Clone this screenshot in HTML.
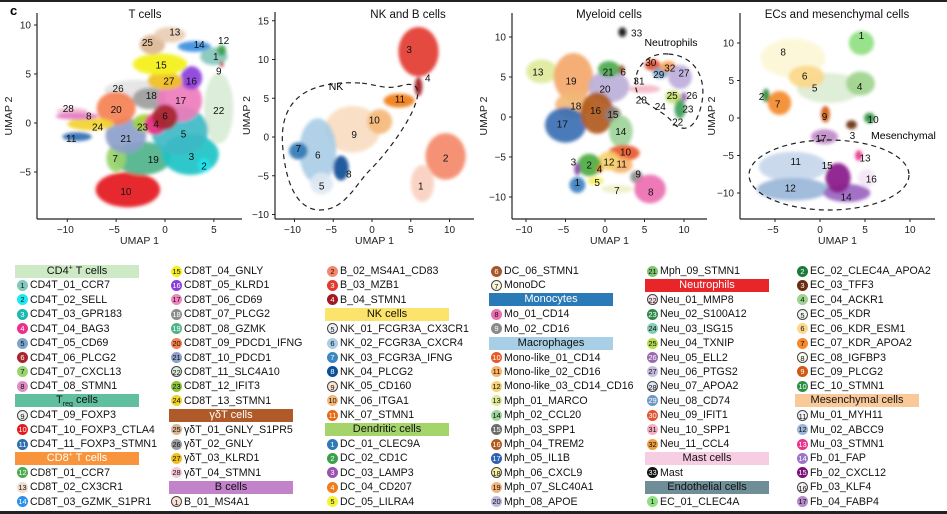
<!DOCTYPE html>
<html><head><meta charset="utf-8">
<style>
body{margin:0;background:#fff;}
#wrap{position:relative;width:947px;height:514px;overflow:hidden;background:#fff;font-family:"Liberation Sans",sans-serif;}
svg text{font-family:"Liberation Sans",sans-serif;}
.lg-row{position:absolute;height:14px;font-size:10.6px;line-height:14px;white-space:nowrap;color:#111;}
.lg-dot{position:absolute;left:0;top:1.5px;width:11px;height:11px;border-radius:50%;font-size:7.5px;line-height:11px;text-align:center;box-sizing:border-box;}
.lg-hdr{position:absolute;height:13px;font-size:11px;line-height:13px;text-align:center;overflow:hidden;}
.lg-hdr sup,.lg-hdr sub{font-size:7px;line-height:0;}
</style></head><body>
<div id="wrap">
<div style="position:absolute;left:0;top:0;width:947px;height:2px;background:#222"></div>
<div style="position:absolute;left:0;top:511px;width:947px;height:3px;background:#222"></div>
<svg id="plots" width="947" height="255" style="position:absolute;left:0;top:0">
<defs><filter id="bl" x="-50%" y="-50%" width="200%" height="200%"><feGaussianBlur stdDeviation="1.6"/></filter></defs>
<text x="10" y="15" font-size="13" font-weight="bold">c</text>
</svg>
<div id="legend"></div>
</div>
<script>
// ---------- panel data ----------
const panelTitles = ["T cells","NK and B cells","Myeloid cells","ECs and mesenchymal cells"];
const xTicks = [[-10,-5,0,5],[-10,-5,0,5,10],[-10,-5,0,5,10],[-5,0,5,10]];
const yTicks = [[-5,0,5,10],[-10,-5,0,5,10,15],[-10,-5,0,5,10],[-10,-5,0,5,10]];
// clusters: [id, x, y, spreadX, spreadY, color]
const clustersT = [
 [22,5.5,1.5,1.5,3.6,"#d9ecd6"],[26,-3,3.3,3.2,1.1,"#e4e4e4"],[28,-9.5,1.2,1.6,.35,"#f3b6d0"],
 [10,-3.8,-6.8,3.3,1.8,"#e31a1c"],[19,-2.3,-3.6,2.9,1.7,"#4fb38a"],[7,-5,-3.6,1,1.4,"#9ad46e"],
 [3,2.6,-3.2,2.9,2.1,"#1fc3c6"],[5,1.5,-0.8,2.9,2.5,"#3dbac6"],[2,4,-4.3,.6,.7,"#1ae6f2"],
 [21,-4,-1.3,2.1,1.8,"#8d9fcb"],[20,-5,1.5,2,1.7,"#f58052"],[24,-7.6,-0.1,2.4,.65,"#f3d22a"],
 [8,-9,0.7,2.2,.35,"#e377c2"],[11,-9,-1.4,1.5,.45,"#2f6db3"],[23,-2,0,1.3,.9,"#a3cf3a"],
 [18,-1.6,2.5,1.7,1.1,"#9d9d9d"],[17,1.5,2.3,2.3,2.2,"#ee7cbd"],[4,-1,-0.1,1.1,1.1,"#ec2f8b"],
 [6,0,0.6,1.3,1.3,"#a8242e"],[16,2.7,4.6,1.1,1.2,"#8b3ddb"],[27,0,4.3,1.8,.9,"#f0c020"],
 [15,-0.5,6,2.8,1.1,"#f4f01a"],[25,-1.3,8,1.3,1,"#dcb692"],[13,0.5,9,1.6,.8,"#e9cdb5"],
 [14,3,7.8,1.7,.55,"#3b8fe0"],[1,5,6.8,1.4,.9,"#83c7bb"],[12,5.8,7.4,.45,.55,"#3aa04a"],[9,5.8,6,.2,.3,"#c0303a"]
];
const clustersNK = [
 [3,6,11,2.6,3.2,"#e23a2f"],[4,6,6.5,.5,1.2,"#a01a20"],[11,3.5,4.7,2,.9,"#f07d1a"],
 [9,-2.5,1,3.6,3,"#f8dcc0"],[10,1,2,1.6,1.6,"#f5b87a"],[6,-7,-1.8,2.4,4.2,"#a9cde6"],
 [7,-9.5,-1.8,1.2,1.1,"#2f7ab5"],[8,-4,-4,1,1.6,"#0b4f96"],[5,-6.5,-6,1.5,1.4,"#dde8f2"],
 [2,9.5,-2.5,2.6,3,"#f4896a"],[1,6.5,-6,1.5,2.4,"#f8d0c0"]
];
const clustersM = [
 [13,-8,5.7,2,1.5,"#e0e99c"],[19,-4,5,2.5,3,"#f4a86a"],[18,-4,1.5,2.3,1.6,"#f2b878"],
 [20,0.5,3.8,2.6,2,"#bbb0d8"],[17,-5,-1,2.6,2.2,"#3a6fb3"],[16,-1,0.5,2.1,2.6,"#b05a1c"],
 [15,1,0.3,1,1,"#8a7f7a"],[21,0.5,6,1.4,1,"#4caa4f"],[6,2.1,5.9,.4,.6,"#9a5a2a"],
 [14,2,-1.8,1.5,2,"#9ed49a"],[10,2.4,-4.5,2,1,"#e8592a"],[11,2,-6,1.5,1,"#f9b36a"],
 [12,0.5,-5.5,1.4,1.2,"#f6d272"],[2,-2,-6,1.5,1.4,"#4cab3f"],[4,-0.7,-6.5,.4,.5,"#e07a10"],
 [3,-3.5,-6.5,.4,.8,"#8a4aa8"],[1,-3.5,-8.5,1,1,"#3a7fc0"],[5,-1.2,-8,1,.5,"#f3ef60"],
 [7,1.5,-9,2,.5,"#eef0c8"],[9,4,-7.5,.8,.8,"#8e8e8e"],[8,5.7,-9,2,1.8,"#ec6fb0"],
 [33,2.2,10.6,.5,.6,"#111111"],[31,5,3.5,2,.5,"#f5b8c8"],[30,6,6.5,1,.7,"#e45030"],
 [29,7,5.5,1,.7,"#7fa8cc"],[32,8,6.3,1,.7,"#f4a050"],[27,9.5,5,1.5,1.5,"#bdaedb"],
 [25,8.6,2.5,1,.8,"#c4e070"],[23,9.5,1,.7,1.2,"#3ea05a"],[26,10,2.5,.4,.6,"#9a6ab0"]
];
const clustersE = [
 [8,-3,8,3.6,2.6,"#fdf6d6"],[5,1,4,3.6,2,"#dcedd4"],[6,-1.5,5.5,2,1.5,"#fbd88a"],
 [4,4.5,4.6,1.6,1.6,"#9fd48e"],[1,4.6,10,1.4,1.6,"#8ee080"],[2,-6,3,.4,.9,"#2e8a3e"],
 [7,-4.5,2,1.3,1.6,"#f48a2a"],[9,0.6,0.5,.5,1.1,"#d05a10"],[3,3.5,-0.9,.6,.6,"#6b2d10"],
 [10,5.5,0,.6,.7,"#2a9040"],[17,0.5,-2.5,1.5,1,"#c08ac8"],[11,-3,-6.5,3.8,2,"#c6d6ea"],
 [12,-3,-9.5,4,1.5,"#9ab6d8"],[14,3,-10,2.6,1.2,"#9a64c0"],[15,2,-8,1.4,2,"#8a1a8a"],
 [13,4.3,-5,.4,.7,"#e8348a"],[16,5.2,-8,1,1.2,"#f4e6f4"]
];
// label positions (UMAP units): [id, x, y]
const labelsT = [[13,1,9.3],[25,-1.8,8.2],[14,3.5,8],[12,6,8.4],[1,5.2,6.8],[9,5.5,5.3],[15,-0.4,5.9],[27,0.4,4.3],[16,2.7,4.3],[26,-4.8,3.5],[18,-1.4,2.8],[17,1.6,2.3],[22,5.5,1.3],[28,-9.9,1.5],[8,-7.8,0.7],[20,-5,1.4],[6,0,0.7],[4,-0.9,-0.1],[23,-2.3,-0.4],[24,-6.9,-0.4],[5,1.9,-1.1],[11,-9.6,-1.6],[21,-4,-1.6],[7,-5.1,-3.6],[19,-1.2,-3.7],[3,2.7,-3.4],[2,4,-4.4],[10,-4,-7]];
const labelsNK = [[3,4.8,11.3],[4,7.2,7.6],[11,3.6,4.9],[10,0.3,2.2],[9,-2.3,0.3],[7,-9.5,-1.5],[6,-7,-2.3],[8,-3,-4.8],[5,-6.5,-6.3],[2,9.5,-2.7],[1,6.3,-6.3]];
const labelsM = [[33,4,10.5],[13,-8.5,5.6],[19,-4.3,4.5],[21,0.4,5.6],[6,2.3,5.6],[20,0,3.5],[18,-3.7,1.4],[16,-1.2,0.8],[15,1,0.3],[17,-5.4,-0.9],[14,2,-1.8],[10,2.6,-4.4],[3,-4,-5.6],[2,-2,-6],[12,0.5,-5.6],[11,2.1,-5.9],[4,-0.7,-6.5],[9,4.2,-7.1],[1,-3.5,-8.2],[5,-1,-8.2],[7,1.5,-9.2],[8,5.8,-9.4],[30,5.8,6.8],[32,8.2,6.1],[29,6.8,5.3],[27,10,5.5],[31,4.3,4.5],[25,8.5,2.7],[26,11,2.7],[28,4.6,2.1],[24,7,1.3],[23,10.5,1],[22,9.2,-0.6]];
const labelsE = [[1,4.6,11],[8,-4.1,8.8],[6,-1.7,5.6],[5,-0.6,4],[4,4.4,4.2],[2,-6.5,2.9],[7,-4.7,1.9],[9,0.5,0.2],[10,5.9,-0.2],[3,3.6,-2.3],[17,0.1,-2.7],[11,-2.7,-5.8],[15,0.8,-6.3],[13,5,-5.3],[16,5.7,-8.1],[12,-3.3,-9.3],[14,2.9,-10.5]];

// ---------- panel geometry ----------
const panels = [
 {x0:165,xs:9.77,y0:123,ys:9.8,axL:37,axR:242,axT:13,axB:219,data:clustersT,labels:labelsT,tx:145},
 {x0:372,xs:7.75,y0:137,ys:7.75,axL:275,axR:474,axT:12,axB:219,data:clustersNK,labels:labelsNK,tx:408},
 {x0:605,xs:7.9,y0:117,ys:8,axL:512,axR:707,axT:13,axB:219,data:clustersM,labels:labelsM,tx:609},
 {x0:820,xs:9,y0:118,ys:7.5,axL:740,axR:935,axT:13,axB:219,data:clustersE,labels:labelsE,tx:837}
];
const NS="http://www.w3.org/2000/svg";
const svg=document.getElementById('plots');
function mk(tag,attrs,parent){const e=document.createElementNS(NS,tag);for(const k in attrs)e.setAttribute(k,attrs[k]);(parent||svg).appendChild(e);return e;}
panels.forEach((p,i)=>{
 const sx=v=>p.x0+v*p.xs, sy=v=>p.y0-v*p.ys;
 const g=mk('g',{});
 
 
 const cg=mk('g',{filter:'url(#bl)'},g);
 p.data.forEach(c=>{
  const e=mk('ellipse',{cx:sx(c[1]),cy:sy(c[2]),rx:c[3]*p.xs,ry:c[4]*p.ys,fill:c[5],opacity:0.92},cg);
  
  
 });
 p.labels.forEach(l=>{
  const t=mk('text',{x:sx(l[1]),y:sy(l[2])+3.5,'font-size':10,'text-anchor':'middle',fill:'#111'},g);
  t.textContent=l[0];
  
  
 });
 const ya=mk('line',{x1:p.axL,y1:p.axT,x2:p.axL,y2:p.axB,stroke:'#222','stroke-width':1.2},g);
 
 
 const xa=mk('line',{x1:p.axL,y1:p.axB,x2:p.axR,y2:p.axB,stroke:'#222','stroke-width':1.2},g);
 
 
 xTicks[i].forEach(v=>{
  mk('line',{x1:sx(v),x2:sx(v),y1:p.axB,y2:p.axB+3,stroke:'#222'},g);
  const t=mk('text',{x:sx(v)-(v<0?2:0),y:p.axB+14,'font-size':10,'text-anchor':'middle',fill:'#222'},g);
  t.textContent=v<0?'\u2212'+(-v):v;
  
  
 });
 yTicks[i].forEach(v=>{
  mk('line',{x1:p.axL-3,x2:p.axL,y1:sy(v),y2:sy(v),stroke:'#222'},g);
  const t=mk('text',{x:p.axL-6,y:sy(v)+3.5,'font-size':10,'text-anchor':'end',fill:'#222'},g);
  t.textContent=v<0?'\u2212'+(-v):v;
  
  
 });
 const xt=mk('text',{x:(p.axL+p.axR)/2,y:244,'font-size':10.5,'text-anchor':'middle',fill:'#222'},g);
 xt.textContent='UMAP 1';
 
 
 const yx=p.axL-25, yy=(p.axT+p.axB)/2;
 const yt=mk('text',{x:yx,y:yy,'font-size':10.5,'text-anchor':'middle',fill:'#222',transform:`rotate(-90 ${yx} ${yy})`},g);
 yt.textContent='UMAP 2';
 
 
 const tt=mk('text',{x:p.tx,y:18,'font-size':11.5,'text-anchor':'middle',fill:'#111'},g);
 tt.textContent=panelTitles[i];
 
 
});
// dashed outlines
const dNK=mk('path',{d:'M 360 83 C 300 80 278 105 283 150 C 287 190 300 210 320 210 C 345 210 355 185 370 170 C 390 150 410 120 415 105 C 420 92 420 80 400 86 C 385 90 375 84 360 83 Z',fill:'none',stroke:'#222','stroke-dasharray':'5,4','stroke-width':1.2});


const tNK=mk('text',{x:336,y:90,'font-size':10.5,'text-anchor':'middle'});tNK.textContent='NK';


const dN=mk('path',{d:'M 668 54 C 640 52 628 80 640 98 C 655 110 665 112 675 125 C 685 132 695 128 700 110 C 708 85 700 56 668 54 Z',fill:'none',stroke:'#222','stroke-dasharray':'5,4','stroke-width':1.2});


const tN=mk('text',{x:671,y:46,'font-size':10.5,'text-anchor':'middle'});tN.textContent='Neutrophils';


const dE=mk('ellipse',{cx:829,cy:175,rx:80,ry:35,fill:'none',stroke:'#222','stroke-dasharray':'5,4','stroke-width':1.2});


const tE=mk('text',{x:871,y:139,'font-size':10.5});tE.textContent='Mesenchymal';



// ---------- legend ----------
const legendCols = [
 [['H','CD4<sup>+</sup> T cells','#cde9c5','#111'],[1,'CD4T_01_CCR7','#86c7bd'],[2,'CD4T_02_SELL','#1de9f0'],[3,'CD4T_03_GPR183','#1fb8b0'],[4,'CD4T_04_BAG3','#ec2f8b'],[5,'CD4T_05_CD69','#7aa5c9'],[6,'CD4T_06_PLCG2','#a8242e'],[7,'CD4T_07_CXCL13','#9ad46e'],[8,'CD4T_08_STMN1','#e08ac4'],
  ['H','T<sub>reg</sub> cells','#5fbf9f','#111'],[9,'CD4T_09_FOXP3','#eeeeee'],[10,'CD4T_10_FOXP3_CTLA4','#e31a1c'],[11,'CD4T_11_FOXP3_STMN1','#2f6db3'],
  ['H','CD8<sup>+</sup> T cells','#f7943c','#fff'],[12,'CD8T_01_CCR7','#4caa4f'],[13,'CD8T_02_CX3CR1','#f1dccd'],[14,'CD8T_03_GZMK_S1PR1','#2d8fe6']],
 [[15,'CD8T_04_GNLY','#f4f01a'],[16,'CD8T_05_KLRD1','#8b3ddb'],[17,'CD8T_06_CD69','#ee86bf'],[18,'CD8T_07_PLCG2','#8c8c8c'],[19,'CD8T_08_GZMK','#4fb38a'],[20,'CD8T_09_PDCD1_IFNG','#f58052'],[21,'CD8T_10_PDCD1','#8d9fcb'],[22,'CD8T_11_SLC4A10','#dfeedd'],[23,'CD8T_12_IFIT3','#8bc43a'],[24,'CD8T_13_STMN1','#f3d22a'],
  ['H','\u03b3\u03b4T cells','#b05a2a','#fff'],[25,'\u03b3\u03b4T_01_GNLY_S1PR5','#dcb692'],[26,'\u03b3\u03b4T_02_GNLY','#9d9d9d'],[27,'\u03b3\u03b4T_03_KLRD1','#f0c020'],[28,'\u03b3\u03b4T_04_STMN1','#f6c8d8'],
  ['H','B cells','#c383cb','#111'],[1,'B_01_MS4A1','#fbe0d4']],
 [[2,'B_02_MS4A1_CD83','#f4896a'],[3,'B_03_MZB1','#e23a2f'],[4,'B_04_STMN1','#a01a20'],
  ['H','NK cells','#fce36b','#111'],[5,'NK_01_FCGR3A_CX3CR1','#eef3f8'],[6,'NK_02_FCGR3A_CXCR4','#a9cde6'],[7,'NK_03_FCGR3A_IFNG','#3b88c0'],[8,'NK_04_PLCG2','#0b4f96'],[9,'NK_05_CD160','#fbe4d0'],[10,'NK_06_ITGA1','#f5b87a'],[11,'NK_07_STMN1','#e86a14'],
  ['H','Dendritic cells','#a5d46a','#111'],[1,'DC_01_CLEC9A','#2f7ab5'],[2,'DC_02_CD1C','#3aa04a'],[3,'DC_03_LAMP3','#9a52b0'],[4,'DC_04_CD207','#f07d1a'],[5,'DC_05_LILRA4','#f6f33a']],
 [[6,'DC_06_STMN1','#a8552a'],[7,'MonoDC','#fbf7d8'],
  ['H','Monocytes','#2a7ab8','#fff'],[8,'Mo_01_CD14','#ec6fb0'],[9,'Mo_02_CD16','#8a8a8a'],
  ['H','Macrophages','#a8cfe5','#111'],[10,'Mono-like_01_CD14','#e8592a'],[11,'Mono-like_02_CD16','#f9b36a'],[12,'Mono-like_03_CD14_CD16','#f6d272'],[13,'Mph_01_MARCO','#e0e99c'],[14,'Mph_02_CCL20','#9ed49a'],[15,'Mph_03_SPP1','#6b6b6b'],[16,'Mph_04_TREM2','#b05a1c'],[17,'Mph_05_IL1B','#2e62b0'],[18,'Mph_06_CXCL9','#f6f3a0'],[19,'Mph_07_SLC40A1','#f4b47a'],[20,'Mph_08_APOE','#c2b8dc']],
 [[21,'Mph_09_STMN1','#7fc46f'],
  ['H','Neutrophils','#e8262a','#fff'],[22,'Neu_01_MMP8','#fbe0ea'],[23,'Neu_02_S100A12','#2e8a4a'],[24,'Neu_03_ISG15','#86cdb8'],[25,'Neu_04_TXNIP','#b7de52'],[26,'Neu_05_ELL2','#9a6ab0'],[27,'Neu_06_PTGS2','#c6bde0'],[28,'Neu_07_APOA2','#dfe8f2'],[29,'Neu_08_CD74','#6d98c4'],[30,'Neu_09_IFIT1','#e45030'],[31,'Neu_10_SPP1','#f5b0c4'],[32,'Neu_11_CCL4','#f0a040'],
  ['H','Mast cells','#f6cde2','#111'],[33,'Mast','#111111'],
  ['H','Endothelial cells','#6f8e97','#111'],[1,'EC_01_CLEC4A','#8ee080']],
 [[2,'EC_02_CLEC4A_APOA2','#1e7a3a'],[3,'EC_03_TFF3','#6b2d10'],[4,'EC_04_ACKR1','#9fd48e'],[5,'EC_05_KDR','#eef7ea'],[6,'EC_06_KDR_ESM1','#fbd88a'],[7,'EC_07_KDR_APOA2','#f48a2a'],[8,'EC_08_IGFBP3','#fdfbef'],[9,'EC_09_PLCG2','#d05a10'],[10,'EC_10_STMN1','#2a9040'],
  ['H','Mesenchymal cells','#f9c99a','#111'],[11,'Mu_01_MYH11','#f0f3f8'],[12,'Mu_02_ABCC9','#9ab6d8'],[13,'Mu_03_STMN1','#e8348a'],[14,'Fb_01_FAP','#9a74c8'],[15,'Fb_02_CXCL12','#7a1078'],[16,'Fb_03_KLF4','#f6eef6'],[17,'Fb_04_FABP4','#b58acb']]
];
const colX=[17,171,327,491,647,797];
const rowY0=264, rowH=14.42;
const leg=document.getElementById('legend');


function lum(hex){const n=parseInt(hex.slice(1),16);return (0.299*(n>>16)+0.587*((n>>8)&255)+0.114*(n&255));}
legendCols.forEach((col,ci)=>{
 col.forEach((it,ri)=>{
  const y=rowY0+ri*rowH;
  if(it[0]==='H'){
   const h=document.createElement('div');
   h.className='lg-hdr';
   h.style.left=(colX[ci]-2)+'px';h.style.top=(y+0.5)+'px';h.style.width='124px';
   h.style.background=it[2];h.style.color=it[3];
   h.innerHTML=it[1];
   
   
   leg.appendChild(h);
  } else {
   const r=document.createElement('div');
   r.className='lg-row';
   r.style.left=colX[ci]+'px';r.style.top=y+'px';
   
   
   const d=document.createElement('span');
   d.className='lg-dot';
   d.style.background=it[2];
   const L=lum(it[2]);
   d.style.color=L<150?'#fff':'#111';
   if(L>225)d.style.border='1px solid #444';
   d.textContent=it[0];
   
   
   const s=document.createElement('span');
   s.style.position='absolute';s.style.left='13px';s.style.top='0';
   s.textContent=it[1];
   r.appendChild(d);r.appendChild(s);
   leg.appendChild(r);
  }
 });
});
</script>
</body></html>
